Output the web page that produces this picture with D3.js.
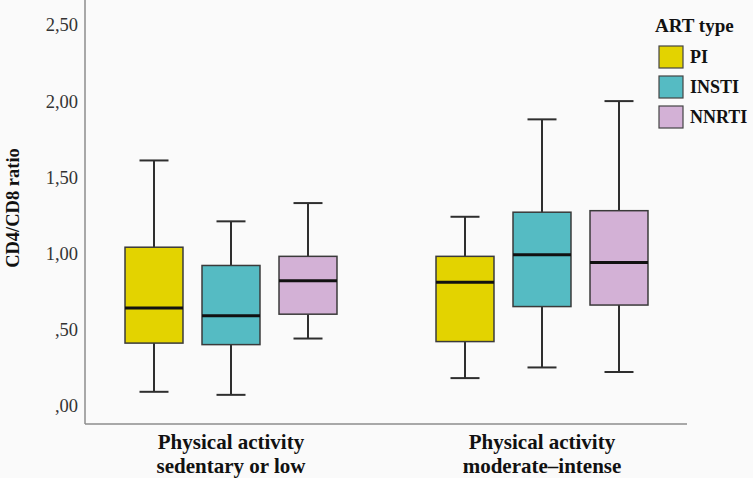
<!DOCTYPE html>
<html><head><meta charset="utf-8">
<script src="https://cdn.jsdelivr.net/npm/d3@7"></script>
<style>body{margin:0;background:#fafafa;} svg{display:block;} text{font-family:"Liberation Serif","Times New Roman",serif;}</style>
</head><body><svg id="c" width="753" height="478"></svg>
<script>
const groups = ["Physical activity\nsedentary or low", "Physical activity\nmoderate\u2013intense"];
const artTypes = ["PI", "INSTI", "NNRTI"];
const colors = ["#e3d300", "#55bbc3", "#d3b1d6"];
// [whiskerLow, Q1, median, Q3, whiskerHigh] per group, per ART type
const PI    = [[0.09, 0.41, 0.64, 1.04, 1.61], [0.18, 0.42, 0.81, 0.98, 1.24]];
const INSTI = [[0.07, 0.40, 0.59, 0.92, 1.21], [0.25, 0.65, 0.99, 1.27, 1.88]];
const NNRTI = [[0.44, 0.60, 0.82, 0.98, 1.33], [0.22, 0.66, 0.94, 1.28, 2.00]];
const yTicks = [0, 0.5, 1.0, 1.5, 2.0, 2.5];
const yTickLabels = [",00", ",50", "1,00", "1,50", "2,00", "2,50"];
const series = [PI, INSTI, NNRTI];

const svg = d3.select("#c");
const left = 85, right = 687, bottom = 424;
const y = d3.scaleLinear().domain([0, 2.5]).range([405.5, 25]);
const x = d3.scaleBand().domain(groups).range([75.5, 697.5]).padding(0);
const xi = d3.scaleBand().domain(artTypes).range([-115.5, 115.5]).paddingInner(0.247).paddingOuter(0.1235);

svg.append("line").attr("x1", left).attr("x2", left).attr("y1", 0).attr("y2", bottom)
  .attr("stroke", "#8c8c8c").attr("stroke-width", 1.5);
svg.append("line").attr("x1", left).attr("x2", right).attr("y1", bottom).attr("y2", bottom)
  .attr("stroke", "#8c8c8c").attr("stroke-width", 1.5);

const yAxis = d3.axisLeft(y).tickValues(yTicks).tickSize(0).tickPadding(0)
  .tickFormat((d, i) => yTickLabels[i]);
const ya = svg.append("g").attr("transform", `translate(78,0)`).call(yAxis);
ya.select(".domain").remove();
ya.attr("font-family", null);
ya.selectAll("text").attr("font-size", 18.5).attr("fill", "#333");

svg.append("text").attr("transform", "translate(19,208) rotate(-90)")
  .attr("text-anchor", "middle").attr("font-weight", "bold")
  .attr("font-size", 18.5).attr("fill", "#111").text("CD4/CD8 ratio");

groups.forEach(g => {
  const lines = g.split("\n");
  const t = svg.append("text").attr("text-anchor", "middle")
    .attr("font-weight", "bold").attr("font-size", 21).attr("fill", "#111");
  lines.forEach((l, i) => t.append("tspan").attr("x", x(g) + x.bandwidth() / 2)
    .attr("y", 449 + i * 24).text(l));
});

const bw = xi.bandwidth();
groups.forEach((g, gi) => {
  const cx0 = x(g) + x.bandwidth() / 2;
  artTypes.forEach((a, ai) => {
    const v = series[ai][gi];
    const bx = cx0 + xi(a);
    const cx = bx + bw / 2;
    const gg = svg.append("g");
    const st = "#2e2e2e";
    gg.append("line").attr("x1", cx).attr("x2", cx).attr("y1", y(v[4])).attr("y2", y(v[3]))
      .attr("stroke", st).attr("stroke-width", 2);
    gg.append("line").attr("x1", cx).attr("x2", cx).attr("y1", y(v[1])).attr("y2", y(v[0]))
      .attr("stroke", st).attr("stroke-width", 2);
    [v[0], v[4]].forEach(w => gg.append("line").attr("x1", cx - bw / 4).attr("x2", cx + bw / 4)
      .attr("y1", y(w)).attr("y2", y(w)).attr("stroke", st).attr("stroke-width", 2));
    gg.append("rect").attr("x", bx).attr("width", bw).attr("y", y(v[3]))
      .attr("height", y(v[1]) - y(v[3])).attr("fill", colors[ai])
      .attr("stroke", "#3a3a3a").attr("stroke-width", 1.5);
    gg.append("line").attr("x1", bx).attr("x2", bx + bw).attr("y1", y(v[2])).attr("y2", y(v[2]))
      .attr("stroke", "#111").attr("stroke-width", 3);
  });
});

const lg = svg.append("g");
lg.append("text").attr("x", 655).attr("y", 32).attr("font-weight", "bold")
  .attr("font-size", 19).attr("fill", "#111").text("ART type");
artTypes.forEach((a, i) => {
  lg.append("rect").attr("x", 659).attr("y", 46 + i * 30).attr("width", 24).attr("height", 22)
    .attr("fill", colors[i]).attr("stroke", "#444").attr("stroke-width", 1.2);
  lg.append("text").attr("x", 690).attr("y", 63 + i * 30)
    .attr("font-weight", "bold").attr("font-size", 18).attr("fill", "#111").text(a);
});
</script></body></html>
